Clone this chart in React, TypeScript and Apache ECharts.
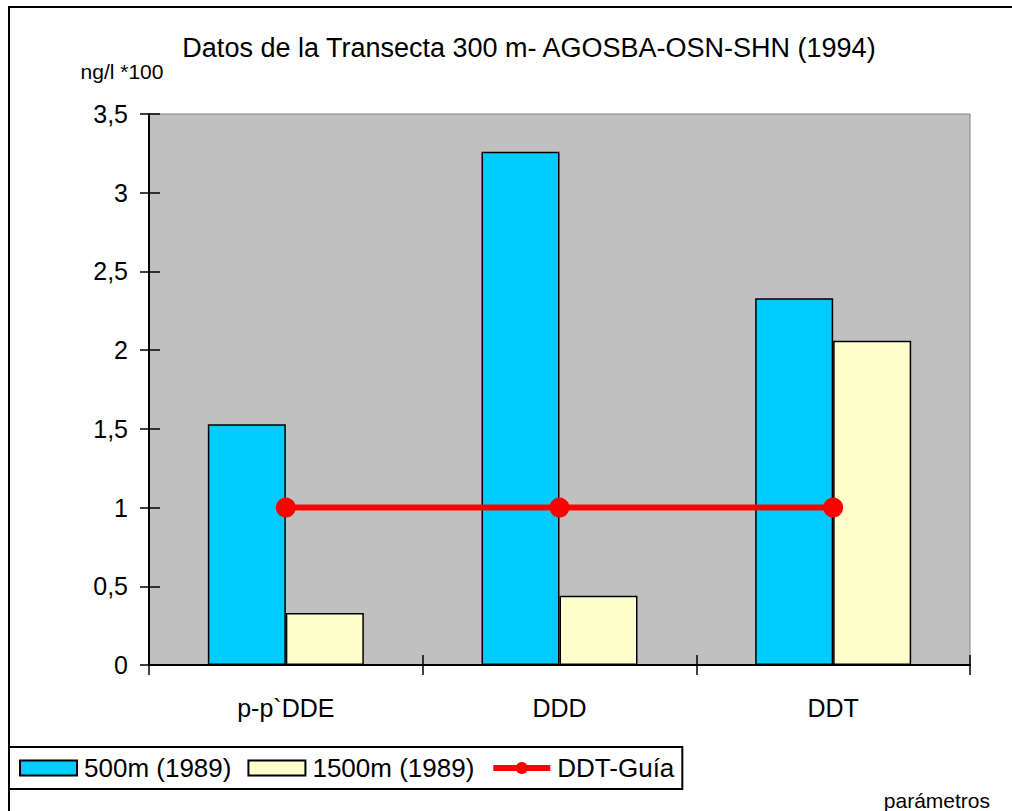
import React, { useEffect, useRef } from "react";
import * as echarts from "echarts";

const categories = ["p-p`DDE", "DDD", "DDT"];
const series500 = [1.53, 3.26, 2.33];
const series1500 = [0.33, 0.44, 2.06];
const guia = [1, 1, 1];
const seriesNames = ["500m (1989)", "1500m (1989)", "DDT-Guía"];
const yMin = 0;
const yMax = 3.5;
const yInterval = 0.5;

const FONT = "'Liberation Sans', Arial, sans-serif";

export default function App() {
  const ref = useRef<HTMLDivElement>(null);
  useEffect(() => {
    if (!ref.current) return;
    const chart = echarts.init(ref.current, null, { renderer: "svg" });
    const fmt = (v: number) => String(v).replace(".", ",");
    chart.setOption({
      animation: false,
      backgroundColor: "#ffffff",
      textStyle: { fontFamily: FONT, color: "#000" },
      graphic: [
        {
          type: "rect",
          z: 0,
          shape: { x: 9, y: 7, width: 1100, height: 1000 },
          style: { fill: null, stroke: "#000", lineWidth: 2 },
          silent: true,
        },
        {
          type: "text",
          x: 529,
          y: 48,
          style: {
            text: "Datos de la Transecta 300 m- AGOSBA-OSN-SHN (1994)",
            font: `27px ${FONT}`,
            fill: "#000",
            align: "center",
            verticalAlign: "middle",
          },
        },
        {
          type: "text",
          x: 122,
          y: 71,
          style: {
            text: "ng/l *100",
            font: `21px ${FONT}`,
            fill: "#000",
            align: "center",
            verticalAlign: "middle",
          },
        },
        {
          type: "text",
          x: 990,
          y: 800,
          style: {
            text: "parámetros",
            font: `21px ${FONT}`,
            fill: "#000",
            align: "right",
            verticalAlign: "middle",
          },
        },
      ],
      legend: {
        left: 9,
        top: 747,
        orient: "horizontal",
        data: [
          { name: seriesNames[0], icon: "rect" },
          { name: seriesNames[1], icon: "rect" },
          { name: seriesNames[2], lineStyle: { width: 6 } },
        ],
        itemWidth: 57,
        itemHeight: 15,
        itemGap: 16,
        padding: [8, 8, 8, 10],
        borderColor: "#000",
        borderWidth: 2,
        backgroundColor: "#fff",
        textStyle: { fontFamily: FONT, fontSize: 26, color: "#000", padding: [0, 0, 0, 2] },
      },
      grid: {
        left: 149,
        top: 114,
        right: 42,
        bottom: 146,
        show: true,
        backgroundColor: "#C0C0C0",
        borderColor: "#808080",
        borderWidth: 1,
      },
      xAxis: [
        {
          type: "category",
          data: categories,
          position: "bottom",
          axisLine: { show: true, lineStyle: { color: "#000", width: 2 } },
          axisTick: { show: true, inside: false, length: 10, lineStyle: { color: "#000", width: 1.5 } },
          axisLabel: { fontFamily: FONT, fontSize: 25, color: "#000", margin: 30 },
          splitLine: { show: false },
        },
        {
          type: "category",
          data: categories,
          position: "bottom",
          offset: 0,
          axisLine: { show: false },
          axisTick: { show: true, inside: true, length: 10, lineStyle: { color: "#000", width: 1.5 } },
          axisLabel: { show: false },
          splitLine: { show: false },
        },
      ],
      yAxis: [
        {
          type: "value",
          min: yMin,
          max: yMax,
          interval: yInterval,
          position: "left",
          axisLine: { show: true, lineStyle: { color: "#000", width: 2 } },
          axisTick: { show: true, inside: false, length: 9, lineStyle: { color: "#000", width: 1.5 } },
          axisLabel: { fontFamily: FONT, fontSize: 25, color: "#000", margin: 21, formatter: fmt },
          splitLine: { show: false },
        },
        {
          type: "value",
          min: yMin,
          max: yMax,
          interval: yInterval,
          position: "left",
          offset: 0,
          axisLine: { show: false },
          axisTick: { show: true, inside: true, length: 11, lineStyle: { color: "#000", width: 1.5 } },
          axisLabel: { show: false },
          splitLine: { show: false },
        },
      ],
      series: [
        {
          name: seriesNames[0],
          type: "bar",
          data: series500,
          barGap: "0%",
          barCategoryGap: "43%",
          itemStyle: { color: "#00CCFF", borderColor: "#000", borderWidth: 1.5 },
        },
        {
          name: seriesNames[1],
          type: "bar",
          data: series1500,
          barGap: "0%",
          barCategoryGap: "43%",
          itemStyle: { color: "#FFFFCC", borderColor: "#000", borderWidth: 1.5 },
        },
        {
          name: seriesNames[2],
          type: "line",
          data: guia,
          z: 5,
          symbol: "circle",
          symbolSize: 20,
          lineStyle: { color: "#FF0000", width: 6 },
          itemStyle: { color: "#FF0000" },
        },
      ],
    });
    return () => chart.dispose();
  }, []);
  return (
    <div
      ref={ref}
      style={{ position: "absolute", left: 0, top: 0, width: 1012, height: 811 }}
    />
  );
}
